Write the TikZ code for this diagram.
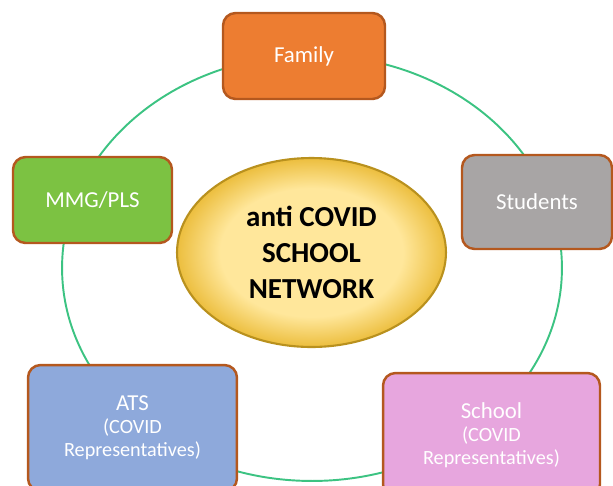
\documentclass[tikz,border=0pt]{standalone}
\usepackage{fontspec}
\setmainfont{Carlito}
\usetikzlibrary{shapes.geometric}
\definecolor{arancio}{RGB}{237,125,49}
\definecolor{verde}{RGB}{124,194,66}
\definecolor{grigio}{RGB}{168,165,165}
\definecolor{azzurro}{RGB}{142,169,219}
\definecolor{rosa}{RGB}{231,166,222}
\definecolor{bordo}{RGB}{180,88,30}
\definecolor{verdeanello}{RGB}{60,195,130}
\definecolor{orochiaro}{RGB}{255,231,155}
\definecolor{oroscuro}{RGB}{236,190,62}
\definecolor{orobordo}{RGB}{185,145,30}
\pgfdeclareradialshading{ovale}{\pgfpoint{0bp}{0bp}}{color(0bp)=(orochiaro); color(17bp)=(orochiaro); color(25bp)=(oroscuro); color(50bp)=(oroscuro)}
\newcommand{\piccolo}{\fontsize{11.5}{13}\selectfont}
\begin{document}
\begin{tikzpicture}[x=0.02cm, y=-0.02cm,
    scatola/.style={draw=bordo, line width=1.4pt, rounded corners=0.25cm, text=white,
      align=center, inner sep=0pt, font=\fontsize{13}{13}\selectfont},
    anello/.style={draw=verdeanello, line width=1.1pt}]
    \useasboundingbox (0,0) rectangle (613,485);
    % Anello verde
    \coordinate (centro) at (312,268);
    \draw[anello] (centro) ellipse [x radius=5cm, y radius=4.26cm];
    % Caselle intorno
    \node[scatola, fill=arancio, minimum width=3.24cm, minimum height=1.72cm] (famiglia) at (304,56) {Family};
    \node[scatola, fill=verde, minimum width=3.18cm, minimum height=1.72cm] (mmg) at (92.5,200) {MMG/PLS};
    \node[scatola, fill=grigio, minimum width=3.0cm, minimum height=1.88cm] (studenti) at (537,202) {Students};
    \node[scatola, fill=azzurro, minimum width=4.18cm, minimum height=2.52cm] (ats) at (132.5,428)
        {ATS\\\piccolo (COVID\\\piccolo Representatives)};
    \node[scatola, fill=rosa, minimum width=4.34cm, minimum height=2.48cm] (scuola) at (491.5,435)
        {School\\\piccolo (COVID\\\piccolo Representatives)};
    % Ovale centrale
    \node[ellipse, draw=orobordo, line width=1.2pt, shade, shading=ovale, minimum width=5.38cm,
        minimum height=3.78cm, align=center, font=\bfseries\fontsize{16.5}{20.5}\selectfont] (rete) at (311.5,252.5)
        {anti COVID\\SCHOOL\\NETWORK};
\end{tikzpicture}
\end{document}
